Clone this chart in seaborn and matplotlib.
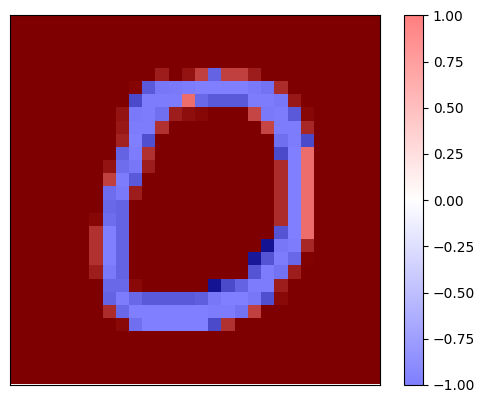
import numpy as np
import seaborn as sns
import matplotlib
matplotlib.use('Agg')
import matplotlib.pyplot as plt

# gray value of each pixel (0-255), the sign is the sign of the attribution
cell_values = [
    [0,0,0,0,0,0,0,0,0,0,0,0,0,0,0,0,0,0,0,0,0,0,0,0,0,0,0,0],
    [0,0,0,0,0,0,0,0,0,0,0,0,0,0,0,0,0,0,0,0,0,0,0,0,0,0,0,0],
    [0,0,0,0,0,0,0,0,0,0,0,0,0,0,0,0,0,0,0,0,0,0,0,0,0,0,0,0],
    [0,0,0,0,0,0,0,0,0,0,0,0,0,0,0,0,0,0,0,0,0,0,0,0,0,0,0,0],
    [0,0,0,0,0,0,0,0,0,0,0,60,0,40,130,-200,130,130,60,0,0,0,0,0,0,0,0,0],
    [0,0,0,0,0,0,0,0,0,12,-180,-240,-244,-250,-255,-255,-255,-255,-244,-230,90,0,0,0,0,0,0,0],
    [0,0,0,0,0,0,0,0,0,-150,-250,-250,-250,220,-210,-180,-180,-180,-250,-250,-240,50,0,0,0,0,0,0],
    [0,0,0,0,0,0,0,0,40,-244,-250,-224,60,30,16,0,0,0,140,-244,-250,-180,16,0,0,0,0,0],
    [0,0,0,0,0,0,0,0,50,-250,-250,100,0,0,0,0,0,0,0,140,-250,-250,80,0,0,0,0,0],
    [0,0,0,0,0,0,0,0,70,-255,-160,0,0,0,0,0,0,0,0,0,-224,-250,-150,0,0,0,0,0],
    [0,0,0,0,0,0,0,0,-200,-250,100,0,0,0,0,0,0,0,0,0,-150,-255,220,0,0,0,0,0],
    [0,0,0,0,0,0,0,40,-220,-240,60,0,0,0,0,0,0,0,0,0,90,-255,220,0,0,0,0,0],
    [0,0,0,0,0,0,0,130,-250,-180,0,0,0,0,0,0,0,0,0,0,90,-255,220,0,0,0,0,0],
    [0,0,0,0,0,0,0,-220,-244,60,0,0,0,0,0,0,0,0,0,0,90,-255,220,0,0,0,0,0],
    [0,0,0,0,0,0,0,-210,-200,0,0,0,0,0,0,0,0,0,0,0,90,-255,220,0,0,0,0,0],
    [0,0,0,0,0,0,16,-220,-200,0,0,0,0,0,0,0,0,0,0,0,90,-255,220,0,0,0,0,0],
    [0,0,0,0,0,0,100,-255,-200,0,0,0,0,0,0,0,0,0,0,0,-170,-255,220,0,0,0,0,0],
    [0,0,0,0,0,0,100,-255,-200,0,0,0,0,0,0,0,0,0,0,-40,-240,-250,80,0,0,0,0,0],
    [0,0,0,0,0,0,100,-255,-200,0,0,0,0,0,0,0,0,0,-50,-170,-250,-210,6,0,0,0,0,0],
    [0,0,0,0,0,0,60,-244,-200,0,0,0,0,0,0,0,0,0,-170,-250,-230,60,0,0,0,0,0,0],
    [0,0,0,0,0,0,0,-210,-210,20,0,0,0,0,0,-40,-150,-200,-250,-250,60,0,0,0,0,0,0,0],
    [0,0,0,0,0,0,0,-200,-250,-210,-180,-180,-180,-180,-190,-240,-255,-255,-240,-160,20,0,0,0,0,0,0,0],
    [0,0,0,0,0,0,0,90,-210,-255,-255,-255,-255,-255,-255,-250,-250,-230,130,0,0,0,0,0,0,0,0,0],
    [0,0,0,0,0,0,0,0,20,-224,-255,-255,-255,-255,-255,-150,100,0,0,0,0,0,0,0,0,0,0,0],
    [0,0,0,0,0,0,0,0,0,0,0,0,0,0,0,0,0,0,0,0,0,0,0,0,0,0,0,0],
    [0,0,0,0,0,0,0,0,0,0,0,0,0,0,0,0,0,0,0,0,0,0,0,0,0,0,0,0],
    [0,0,0,0,0,0,0,0,0,0,0,0,0,0,0,0,0,0,0,0,0,0,0,0,0,0,0,0],
    [0,0,0,0,0,0,0,0,0,0,0,0,0,0,0,0,0,0,0,0,0,0,0,0,0,0,0,0],
]
cbar_ticks = [-1.0, -0.75, -0.5, -0.25, 0.0, 0.25, 0.5, 0.75, 1.0]

cells = np.array(cell_values)
digit = np.abs(cells)
attr = np.where(cells < 0, -1, 1)  # empty pixels count as positive

fig = plt.figure(figsize=(4.84, 4.03), dpi=100)
ax = fig.add_axes([10.0 / 484, 18 / 403, 370 / 484, 369.7 / 403])
cax = fig.add_axes([404.0 / 484, 18 / 403, 19 / 484, 369.7 / 403])

sns.heatmap(digit, vmin=0, vmax=255, cmap='gray', cbar=False,
            xticklabels=False, yticklabels=False, ax=ax)
sns.heatmap(attr, vmin=-1, vmax=1, cmap='bwr', alpha=0.5, cbar_ax=cax,
            cbar_kws={'ticks': cbar_ticks},
            xticklabels=False, yticklabels=False, ax=ax)

ax.set_ylim(28.08, 0)  # thin white strip under the image
for s in ax.spines.values():
    s.set_visible(True)
    s.set_linewidth(0.8)
cb = ax.collections[-1].colorbar
cb.outline.set_visible(True)
cb.outline.set_linewidth(0.8)

plt.savefig('out.png', dpi=100)
